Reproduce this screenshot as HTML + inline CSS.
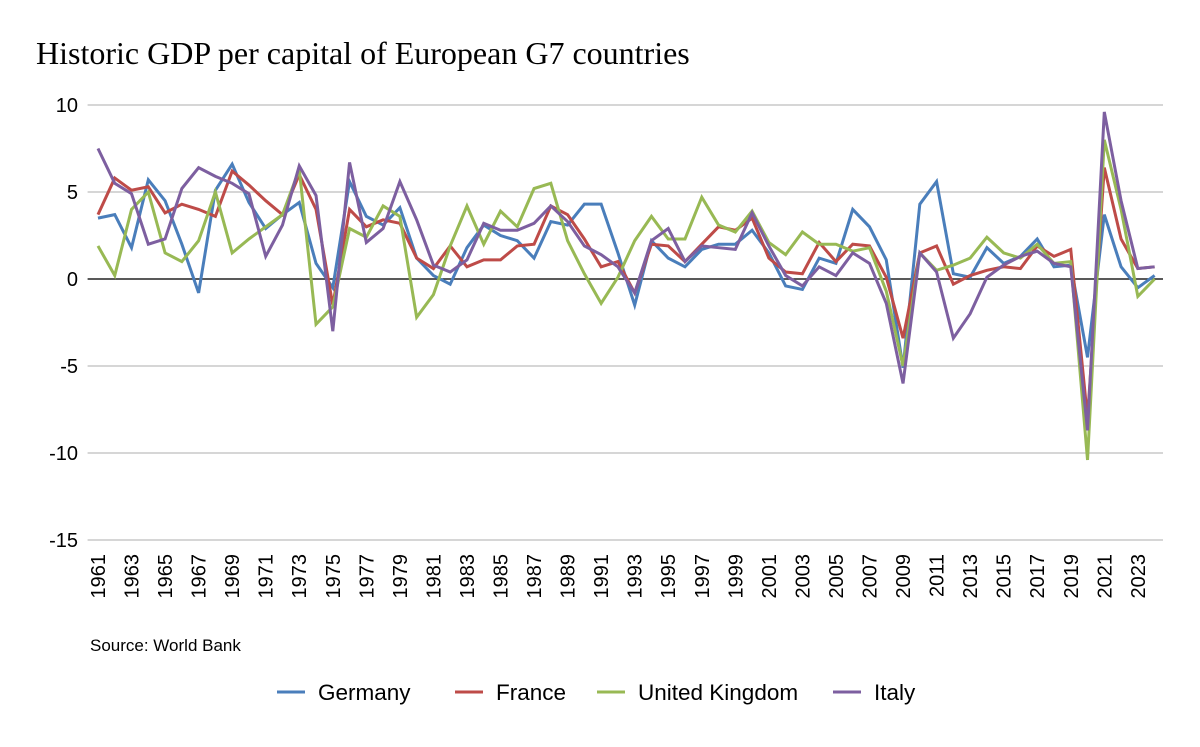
<!DOCTYPE html>
<html><head><meta charset="utf-8">
<style>
body{margin:0;background:#fff;width:1200px;height:742px;overflow:hidden}
svg text{font-family:"Liberation Sans",Arial,sans-serif}
</style></head>
<body>
<svg id="chart" width="1200" height="742" xmlns="http://www.w3.org/2000/svg">
<text x="36" y="64" style="font-family:'Liberation Serif',serif;font-size:32px" fill="#000">Historic GDP per capital of European G7 countries</text>
<g id="grid"></g><g id="yticks"></g><g id="xticks"></g><g id="lines"></g>
<text x="90" y="651" font-size="17" fill="#000">Source: World Bank</text>
<g id="legend"></g>
</svg>
<script>
const years=[];for(let y=1961;y<=2024;y++)years.push(y);
const germany=[3.5,3.7,1.8,5.7,4.5,2.0,-0.8,5.1,6.6,4.4,2.9,3.7,4.4,0.9,-0.5,5.6,3.6,3.1,4.1,1.2,0.2,-0.3,1.8,3.1,2.5,2.2,1.2,3.3,3.1,4.3,4.3,1.5,-1.5,2.2,1.2,0.7,1.7,2.0,2.0,2.8,1.5,-0.4,-0.6,1.2,0.9,4.0,3.0,1.1,-5.1,4.3,5.6,0.3,0.1,1.8,0.9,1.3,2.3,0.7,0.8,-4.5,3.7,0.7,-0.5,0.2];
const france=[3.7,5.8,5.1,5.3,3.8,4.3,4.0,3.6,6.2,5.4,4.5,3.7,6.0,4.0,-1.5,4.0,3.0,3.4,3.2,1.2,0.6,1.9,0.7,1.1,1.1,1.9,2.0,4.2,3.7,2.3,0.7,1.0,-0.8,2.0,1.9,1.0,2.0,3.0,2.8,3.5,1.2,0.4,0.3,2.1,1.0,2.0,1.9,0.1,-3.4,1.5,1.9,-0.3,0.2,0.5,0.7,0.6,1.9,1.3,1.7,-8.0,6.4,2.3,0.6,0.7];
const uk=[1.9,0.2,4.0,5.0,1.5,1.0,2.2,5.0,1.5,2.3,3.0,3.7,6.3,-2.6,-1.6,2.9,2.4,4.2,3.6,-2.2,-0.9,1.9,4.2,2.0,3.9,3.0,5.2,5.5,2.2,0.3,-1.4,0.1,2.2,3.6,2.3,2.3,4.7,3.1,2.7,3.9,2.1,1.4,2.7,2.0,2.0,1.6,1.8,-0.7,-5.0,1.5,0.5,0.8,1.2,2.4,1.5,1.2,2.0,0.9,1.0,-10.4,8.0,4.0,-1.0,0.0];
const italy=[7.5,5.5,4.9,2.0,2.3,5.2,6.4,5.9,5.5,4.9,1.3,3.1,6.5,4.8,-3.0,6.7,2.1,2.9,5.6,3.4,0.8,0.4,1.1,3.2,2.8,2.8,3.2,4.2,3.3,1.9,1.4,0.7,-0.8,2.2,2.9,1.0,1.9,1.8,1.7,3.8,1.9,0.2,-0.4,0.7,0.2,1.5,0.9,-1.4,-6.0,1.5,0.4,-3.4,-2.0,0.1,0.8,1.3,1.6,0.9,0.7,-8.7,9.6,4.5,0.6,0.7];
const yTicks=[10,5,0,-5,-10,-15];
const seriesNames=["Germany","France","United Kingdom","Italy"];
const colors=["#4a7ebb","#be4b48","#98b954","#7d5fa0"];
const NS="http://www.w3.org/2000/svg";
const X0=89.6,X1=1163,Y10=105,Ym15=540;
const step=(X1-X0)/years.length;
const xs=i=>X0+step*(i+0.5);
const ys=v=>Y10+(10-v)*(Ym15-Y10)/25;
function mk(t,a,p){const e=document.createElementNS(NS,t);for(const k in a)e.setAttribute(k,a[k]);p.appendChild(e);return e;}
const grid=document.getElementById('grid'),yt=document.getElementById('yticks'),xt=document.getElementById('xticks');
yTicks.forEach(v=>{
 if(v!==0){const l=mk('line',{x1:X0-2,x2:X1,y1:ys(v),y2:ys(v),stroke:'#c8c8c8','stroke-width':1.5},grid);
 
 }
 const t=mk('text',{x:78,y:ys(v)+7,'text-anchor':'end','font-size':20},yt);t.textContent=v;
 
 
});
years.forEach((y,i)=>{
 if(i%2)return;
 const x=xs(i)+7,yy=554;
 const t=mk('text',{x:x,y:yy,'text-anchor':'end','font-size':20,transform:`rotate(-90 ${x} ${yy})`},xt);t.textContent=y;
 
 
});
const lg=document.getElementById('lines');
[germany,france,uk,italy].forEach((d,s)=>{
 const p=mk('polyline',{points:d.map((v,i)=>xs(i)+','+ys(v)).join(' '),fill:'none',stroke:colors[s],'stroke-width':3,'stroke-linejoin':'miter'},lg);
 
 
});
const zero=mk('line',{x1:X0-2,x2:X1,y1:ys(0),y2:ys(0),stroke:'#222','stroke-width':1.5},grid);


const leg=document.getElementById('legend');
const lx=[277,455,597,833];
seriesNames.forEach((n,s)=>{
 const g=mk('g',{},leg);
 
 
 mk('line',{x1:lx[s],x2:lx[s]+28,y1:692,y2:692,stroke:colors[s],'stroke-width':3},g);
 const t=mk('text',{x:lx[s]+41,y:700,'font-size':22.5},g);t.textContent=n;
});
</script>
</body></html>
